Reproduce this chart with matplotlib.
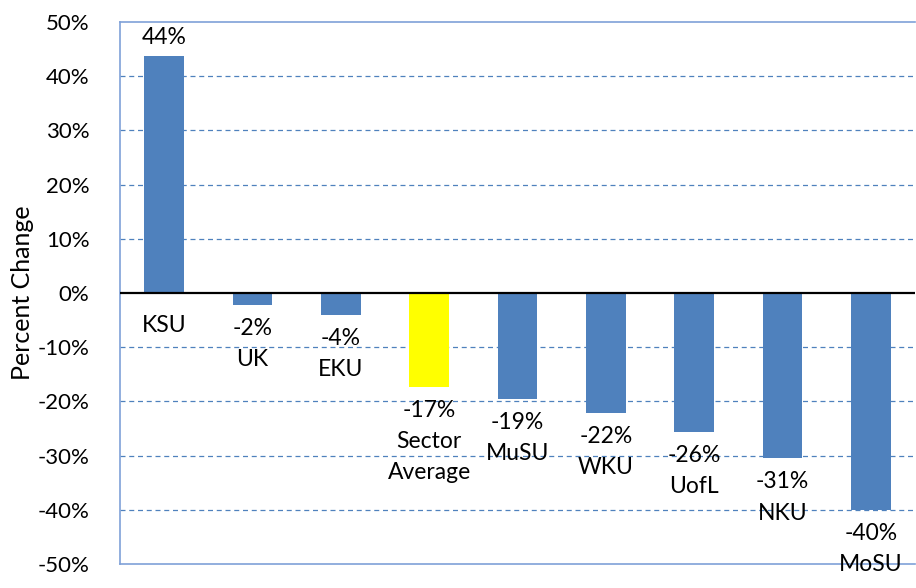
import numpy as np
import matplotlib.pyplot as plt
from matplotlib.ticker import PercentFormatter

plt.rcParams['font.family'] = ['Lato', 'DejaVu Sans']
plt.rcParams['axes.unicode_minus'] = False

schools = ["KSU", "UK", "EKU", "Sector\nAverage", "MuSU", "WKU", "UofL", "NKU", "MoSU"]
change = [43.7, -2.2, -4.1, -17.3, -19.5, -22.1, -25.7, -30.5, -40.0]
value_labels = ["44%", "-2%", "-4%", "-17%", "-19%", "-22%", "-26%", "-31%", "-40%"]

blue = "#4F81BD"
colors = ["#FFFF00" if s.startswith("Sector") else blue for s in schools]

fig = plt.figure(figsize=(9.16, 5.88), dpi=100)
ax = fig.add_axes([0.131, 0.0408, 0.868, 0.9218])

x = np.arange(len(schools))
ax.bar(x, change, width=0.45, color=colors, zorder=3)

ax.set_xlim(-0.5, len(schools) - 0.5)
ax.set_ylim(-50, 50)
ax.set_yticks(np.arange(-50, 51, 10))
ax.yaxis.set_major_formatter(PercentFormatter(decimals=0))
ax.set_xticks([])
ax.tick_params(axis='y', length=0, pad=22, labelsize=16)
ax.set_ylabel("Percent Change", fontsize=18)
ax.yaxis.set_label_coords(-0.108, 0.5)

for y in range(-40, 50, 10):
    if y == 0:
        continue
    ax.axhline(y, color=blue, lw=0.9, ls=(0, (4, 3)), zorder=1)
ax.axhline(0, color="black", lw=1.6, zorder=4)

for side in ["left", "top", "bottom"]:
    ax.spines[side].set_color("#7FA1D8")
    ax.spines[side].set_linewidth(1.2)
ax.spines["right"].set_visible(False)

for xi, v, vl, s in zip(x, change, value_labels, schools):
    if v >= 0:
        # value above the bar, category below the zero line
        ax.annotate(vl, (xi, v), xytext=(0, 19), textcoords='offset pixels',
                    ha='center', va='center', fontsize=16.5, zorder=5)
        ax.annotate(s, (xi, 0), xytext=(0, -32), textcoords='offset pixels',
                    ha='center', va='center', fontsize=16.5, zorder=5)
    else:
        ax.annotate(vl + "\n" + s, (xi, v), xytext=(0, -13), textcoords='offset pixels',
                    ha='center', va='top', fontsize=16.5, linespacing=1.6, zorder=5)

fig.savefig("out.png", dpi=100)
